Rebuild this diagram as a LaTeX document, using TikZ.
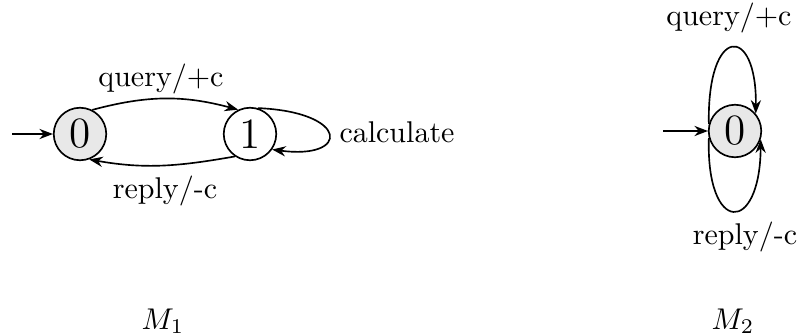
\documentclass[tikz,border=0pt]{standalone}
\usetikzlibrary{arrows.meta}
\definecolor{stfill}{HTML}{E8E8E8}
\begin{document}
\begin{tikzpicture}[x=0.3333pt,y=-0.3333pt,
  state/.style={circle,draw,line width=0.55pt,minimum size=17.5pt,inner sep=0pt,font=\Large},
  edge/.style={draw,line width=0.55pt,-{Stealth[length=4.5pt,width=3.4pt]}},
  lbl/.style={inner sep=0pt}]
\useasboundingbox (0,0) rectangle (798,336);
% M1
\node[state,fill=stfill] (a) at (80,134) {0};
\node[state] (b) at (250,134) {1};
\coordinate (ia) at (12,134);
\draw[edge] (ia) -- (a);
\draw[edge] (a.63) to[out=15,in=165] (b.116);
\draw[edge] (b.236) to[out=-170,in=-10] (a.-70);
\draw[edge] (b.73) .. controls (350,112) and (350,160) .. (b.-35);
\node[lbl] (q1) at (161,79) {query/+c};
\node[lbl] (r1) at (165,191) {reply/-c};
\node[lbl] (c1) at (397,132) {calculate};
% M2
\node[state,fill=stfill] (z) at (735,131) {0};
\coordinate (iz) at (663,131);
\draw[edge] (iz) -- (z);
\draw[edge] (z.165) .. controls (707,24) and (757,24) .. (z.40);
\draw[edge] (z.195) .. controls (706,235) and (760,235) .. (z.-18);
\node[lbl] (q2) at (729,18) {query/+c};
\node[lbl] (r2) at (745,237) {reply/-c};
\node[lbl] (m1) at (163,321) {$M_1$};
\node[lbl] (m2) at (733,321) {$M_2$};
\end{tikzpicture}
\end{document}
